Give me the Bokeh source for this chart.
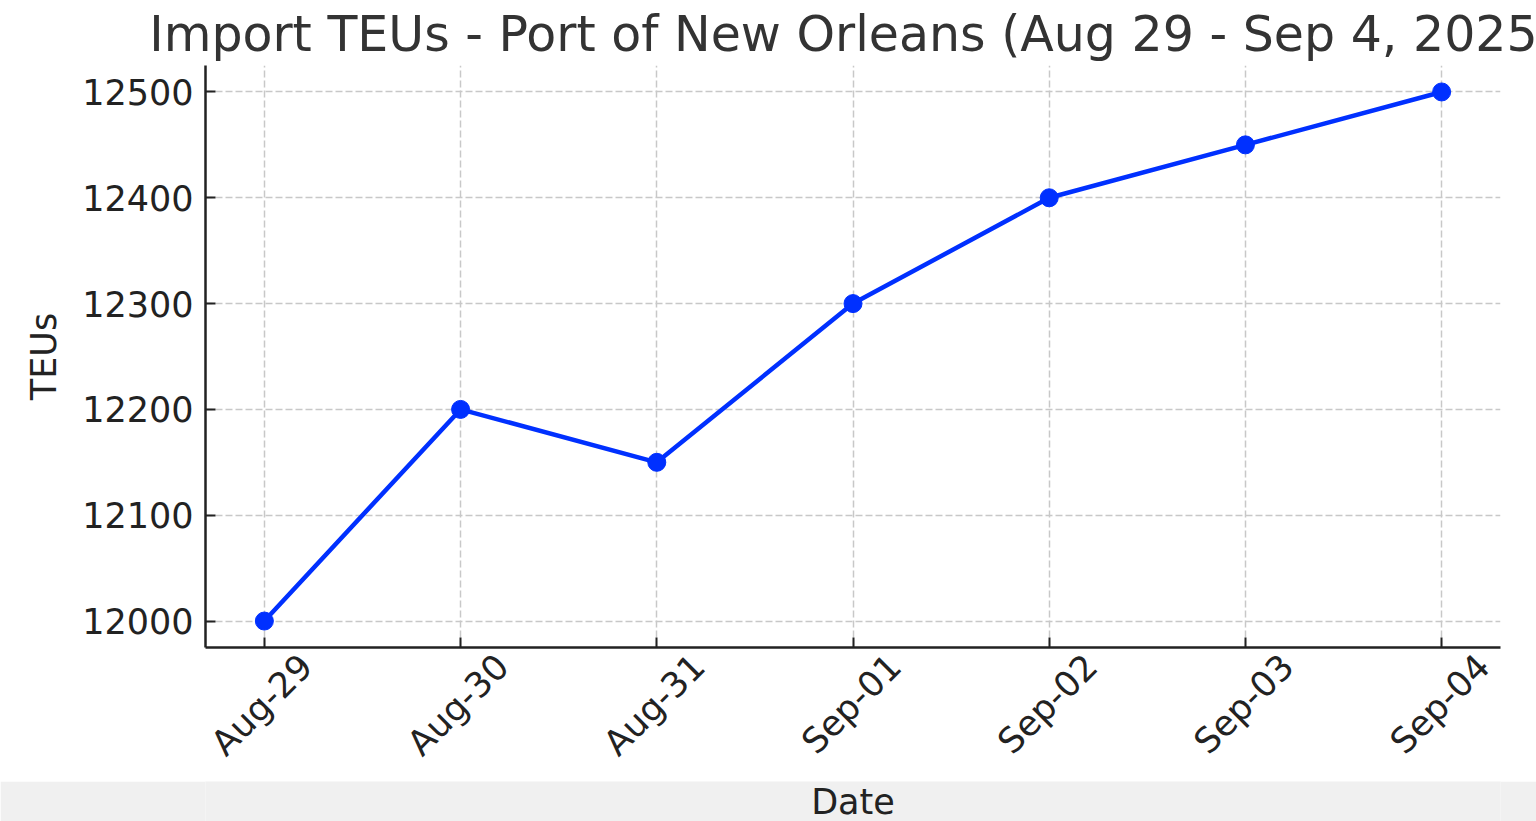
import math
from bokeh.plotting import figure
from bokeh.layouts import column
from bokeh.models import (ColumnDataSource, FixedTicker, Range1d, LinearAxis,
                          CustomJSTickFormatter, Label)
from bokeh.embed import file_html
from bokeh.resources import INLINE

# ---- data ----
dates = ["Aug-29", "Aug-30", "Aug-31", "Sep-01", "Sep-02", "Sep-03", "Sep-04"]
teus = [12000, 12200, 12150, 12300, 12400, 12450, 12500]
y_ticks = [12000, 12100, 12200, 12300, 12400, 12500]
title_text = "Import TEUs - Port of New Orleans (Aug 29 - Sep 4, 2025)"
x_label = "Date"
y_label = "TEUs"

FONT = "DejaVu Sans"
BLUE = "#0030ff"
INK = "#222222"

idx = list(range(len(dates)))
src = ColumnDataSource(dict(x=idx, y=teus))

W = 1536
H_MAIN, H_BAND = 781, 40
X0, X1 = -0.3, 6.3
SHIFT = 0.214   # rotated labels are centred under their ticks

p = figure(width=W, height=H_MAIN, output_backend="svg", toolbar_location=None,
           x_range=Range1d(X0, X1), y_range=Range1d(11975, 12525),
           min_border_left=205, min_border_right=36, min_border_top=65,
           min_border_bottom=134, outline_line_color=None,
           background_fill_color="white", border_fill_color="white")
p.extra_x_ranges = {"labels": Range1d(X0 - SHIFT, X1 - SHIFT)}

# title
p.title.text = title_text
p.title.align = "center"
p.title.text_font = FONT
p.title.text_font_size = "49px"
p.title.text_font_style = "normal"
p.title.text_color = "#333333"
p.title.standoff = 6

# grids
for g in (p.xgrid, p.ygrid):
    g.grid_line_color = "#c8c8c8"
    g.grid_line_width = 1.5
    g.grid_line_dash = "7 3"

# axes
p.xaxis.ticker = FixedTicker(ticks=idx)
p.yaxis.ticker = FixedTicker(ticks=y_ticks)
for ax in (p.xaxis, p.yaxis):
    ax.axis_line_color = INK
    ax.axis_line_width = 2.5
    ax.major_tick_line_color = INK
    ax.major_tick_line_width = 2
    ax.major_tick_in = 10
    ax.major_tick_out = 0
    ax.minor_tick_line_color = None
    ax.axis_label_text_font = FONT
    ax.axis_label_text_font_size = "35px"
    ax.axis_label_text_font_style = "normal"
    ax.axis_label_text_color = INK
    ax.major_label_text_font = FONT
    ax.major_label_text_font_size = "35px"
    ax.major_label_text_color = INK

p.yaxis.axis_label = y_label
p.yaxis.major_label_standoff = 12
p.yaxis.axis_label_standoff = 15

p.xaxis.formatter = CustomJSTickFormatter(code="return '';")
p.xaxis.major_label_standoff = 0

# rotated date labels
lab_axis = LinearAxis(x_range_name="labels", ticker=FixedTicker(ticks=idx),
                      major_label_overrides={i: d for i, d in zip(idx, dates)},
                      major_label_orientation=math.pi / 4,
                      major_label_standoff=13,
                      major_label_text_font=FONT,
                      major_label_text_font_size="35px",
                      major_label_text_color=INK,
                      axis_line_color=None, major_tick_line_color=None,
                      minor_tick_line_color=None,
                      major_tick_in=0, major_tick_out=0)
p.add_layout(lab_axis, "below")

# data
p.line("x", "y", source=src, line_color=BLUE, line_width=4.5)
p.scatter("x", "y", source=src, size=18, fill_color=BLUE, line_color=BLUE)

# bottom strip (grey bar of the screenshot) carrying the x axis title
band = figure(width=W, height=H_BAND, output_backend="svg", toolbar_location=None,
              x_axis_type=None, y_axis_type=None,
              x_range=Range1d(0, 1), y_range=Range1d(0, 1),
              min_border_left=205, min_border_right=36, min_border_top=0,
              min_border_bottom=0, outline_line_color=None,
              background_fill_color="#f0f0f0", border_fill_color="#f0f0f0")
band.grid.visible = False
band.add_layout(Label(x=0.5, y=0.5, text=x_label, text_align="center",
                      text_baseline="middle", text_font=FONT,
                      text_font_size="35px", text_color=INK))

open("out.html", "w").write(file_html(column(p, band, spacing=0), INLINE))
